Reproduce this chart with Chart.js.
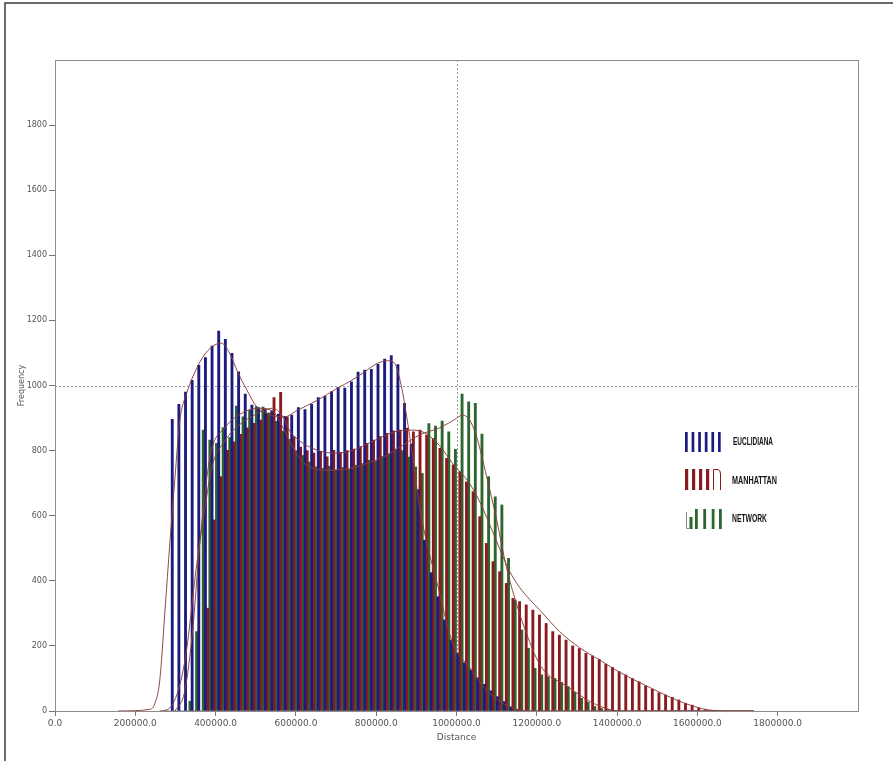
<!DOCTYPE html>
<html>
<head>
<meta charset="utf-8">
<title>Distance histogram</title>
<script src="https://cdn.jsdelivr.net/npm/chart.js@4.4.0/dist/chart.umd.min.js"></script>
<style>
    html, body { margin: 0; padding: 0; background: #fff; }
    canvas { display: block; }
</style>
</head>
<body>
<canvas id="histChart" width="893" height="761"></canvas>
<script>
// histogram bins: bin k is centred on k * binWidth
const binWidth = 16530;
const firstBin = 17;

const euclidiana = [
    0, 896, 942, 980, 1016, 1062, 1086, 1121, 1167, 1142, 1099, 1042, 974, 940, 932, 928, 922, 912, 905, 909,
    932, 926, 942, 963, 967, 981, 994, 992, 1011, 1041, 1047, 1050, 1065, 1081, 1092, 1064, 945, 820, 680, 525,
    425, 351, 280, 218, 177, 148, 126, 102, 82, 62, 44, 29, 13, 4, 0, 0, 0, 0, 0, 0,
    0, 0, 0, 0, 0, 0, 0, 0, 0, 0, 0, 0, 0, 0, 0, 0, 0, 0, 0, 0,
    0, 0, 0, 0
];
const manhattan = [
    0, 0, 0, 0, 0, 0, 316, 587, 720, 801, 827, 850, 870, 884, 894, 915, 963, 979, 904, 842,
    811, 800, 792, 798, 781, 801, 795, 800, 805, 812, 822, 832, 843, 853, 861, 863, 869, 858, 863, 848,
    837, 807, 776, 756, 735, 704, 674, 597, 515, 459, 428, 392, 346, 336, 326, 310, 295, 269, 244, 233,
    218, 200, 192, 177, 169, 159, 144, 134, 121, 111, 100, 90, 77, 67, 56, 49, 42, 34, 24, 18,
    9, 4, 1, 0
];
const network = [
    0, 0, 0, 30, 244, 863, 832, 822, 871, 840, 937, 904, 924, 935, 934, 915, 890, 860, 835, 800,
    785, 765, 750, 745, 752, 740, 748, 742, 755, 760, 770, 768, 782, 790, 805, 800, 780, 750, 730, 883,
    875, 891, 858, 804, 974, 950, 945, 851, 720, 658, 633, 469, 341, 249, 193, 131, 111, 105, 100, 88,
    75, 57, 39, 27, 14, 8, 4, 1, 0, 0, 0, 0, 0, 0, 0, 0, 0, 0, 0, 0,
    0, 0, 0, 0
];

// smoothed density curves drawn over the bars
const euclidCurveX = [157000, 236000, 249000, 261000, 274000, 286000, 299000, 311000, 328000, 343000, 368000, 393000, 415000, 435000, 455000, 478000, 502000, 527000, 552000, 572000, 604000, 654000, 704000, 739000, 771000, 803000, 828000, 846000, 863000, 876000, 891000, 908000, 958000, 990000, 1032000, 1075000, 1107000, 1144000, 1182000, 1741000];
const euclidCurveY = [0, 5, 24, 95, 310, 515, 720, 893, 976, 1026, 1087, 1121, 1130, 1099, 1041, 986, 935, 915, 904, 904, 924, 955, 992, 1016, 1042, 1068, 1076, 1068, 996, 904, 780, 627, 362, 209, 135, 64, 30, 8, 0, 0];
const manhCurveX = [261000, 286000, 323000, 353000, 373000, 391000, 423000, 460000, 498000, 522000, 542000, 567000, 585000, 609000, 654000, 697000, 739000, 789000, 846000, 888000, 920000, 958000, 990000, 1032000, 1057000, 1082000, 1107000, 1132000, 1157000, 1182000, 1206000, 1256000, 1306000, 1356000, 1405000, 1455000, 1505000, 1555000, 1592000, 1629000, 1667000, 1741000];
const manhCurveY = [0, 10, 150, 450, 620, 750, 830, 880, 910, 925, 930, 905, 860, 830, 801, 792, 800, 827, 858, 863, 855, 815, 761, 700, 645, 575, 500, 430, 380, 343, 312, 245, 195, 157, 120, 88, 58, 30, 14, 3, 0, 0];
const netCurveX = [299000, 323000, 343000, 361000, 386000, 423000, 473000, 510000, 547000, 572000, 597000, 622000, 672000, 734000, 789000, 833000, 871000, 908000, 958000, 995000, 1015000, 1032000, 1050000, 1075000, 1100000, 1124000, 1149000, 1174000, 1206000, 1239000, 1256000, 1294000, 1331000, 1368000, 1405000, 1741000];
const netCurveY = [0, 60, 250, 520, 780, 870, 920, 930, 915, 860, 800, 760, 740, 745, 766, 790, 820, 848, 870, 895, 909, 895, 843, 720, 587, 443, 331, 239, 146, 100, 90, 60, 30, 10, 0, 0];

const seriesNames = ['EUCLIDIANA', 'MANHATTAN', 'NETWORK'];
const seriesColors = ['#1c1c80', '#8b1a1f', '#2c662d'];
const curveColor = 'rgba(140, 62, 62, 0.95)';
const crossX = 1000000;
const crossY = 1000;

const axisFont = { family: 'DejaVu Sans', size: 9 };

function toBars(values) {
    return values.map((v, i) => ({ x: (firstBin + i) * binWidth, y: v }));
}

function toCurve(xs, ys) {
    return xs.map((x, i) => ({ x: x, y: ys[i] }));
}

function barSet(label, values, color) {
    return {
        type: 'bar',
        label: label,
        data: toBars(values),
        backgroundColor: color,
        borderWidth: 0,
        categoryPercentage: 1,
        barPercentage: 1,
        order: 1,
    };
}

function curveSet(label, xs, ys) {
    return {
        type: 'line',
        label: label,
        data: toCurve(xs, ys),
        borderColor: curveColor,
        borderWidth: 1,
        pointRadius: 0,
        fill: false,
        cubicInterpolationMode: 'monotone',
        order: 0,
    };
}

// frame, crosshair, plot box and the striped legend
const decorations = {
    id: 'decorations',
    beforeDraw(chart) {
        const ctx = chart.ctx;
        ctx.save();
        ctx.fillStyle = '#fff';
        ctx.fillRect(0, 0, chart.width, chart.height);
        ctx.strokeStyle = '#3a3a3a';
        ctx.lineWidth = 1.5;
        ctx.beginPath();
        ctx.moveTo(5, chart.height);
        ctx.lineTo(5, 3);
        ctx.lineTo(chart.width, 3);
        ctx.stroke();
        ctx.restore();
    },
    beforeDatasetsDraw(chart) {
        const { ctx, chartArea, scales } = chart;
        const px = scales.x.getPixelForValue(crossX);
        const py = scales.y.getPixelForValue(crossY);
        ctx.save();
        ctx.strokeStyle = '#9a9aa8';
        ctx.lineWidth = 1;
        ctx.setLineDash([2, 2]);
        ctx.beginPath();
        ctx.moveTo(Math.round(px) + 0.5, chartArea.top);
        ctx.lineTo(Math.round(px) + 0.5, chartArea.bottom);
        ctx.moveTo(chartArea.left, Math.round(py) + 0.5);
        ctx.lineTo(chartArea.right, Math.round(py) + 0.5);
        ctx.stroke();
        ctx.restore();
    },
    afterDraw(chart) {
        const { ctx, chartArea } = chart;
        ctx.save();
        ctx.strokeStyle = '#8c8c8c';
        ctx.lineWidth = 1;
        ctx.strokeRect(Math.round(chartArea.left) + 0.5, Math.round(chartArea.top) + 0.5,
            Math.round(chartArea.right - chartArea.left), Math.round(chartArea.bottom - chartArea.top));

        // legend glyphs
        ctx.fillStyle = seriesColors[0];
        for (let i = 0; i < 6; i++) {
            ctx.fillRect(685 + i * 6.6, 432, 2.7, 20);
        }
        ctx.fillStyle = seriesColors[1];
        for (let i = 0; i < 4; i++) {
            ctx.fillRect(685 + i * 7, 469, 3.2, 21);
        }
        ctx.strokeStyle = seriesColors[1];
        ctx.beginPath();
        ctx.moveTo(713.5, 490);
        ctx.lineTo(713.5, 469.5);
        ctx.lineTo(718, 469.5);
        ctx.quadraticCurveTo(720.5, 470, 720.5, 474);
        ctx.lineTo(720.5, 490);
        ctx.stroke();
        ctx.strokeStyle = '#888';
        ctx.beginPath();
        ctx.moveTo(686.5, 512);
        ctx.lineTo(686.5, 528.5);
        ctx.lineTo(689, 528.5);
        ctx.stroke();
        ctx.fillStyle = seriesColors[2];
        ctx.fillRect(689.5, 517, 3, 12);
        [695, 703.3, 711.7, 719].forEach(x => ctx.fillRect(x, 509, 2.8, 20));

        ctx.fillStyle = '#111';
        ctx.font = 'bold 10px "Liberation Sans", Arial, sans-serif';
        ctx.textBaseline = 'middle';
        ctx.fillText(seriesNames[0], 733, 442, 40);
        ctx.fillText(seriesNames[1], 732, 481, 45);
        ctx.fillText(seriesNames[2], 732, 519, 35);
        ctx.restore();
    }
};

new Chart(document.getElementById('histChart'), {
    type: 'bar',
    data: {
        datasets: [
            curveSet('Euclidiana curve', euclidCurveX, euclidCurveY),
            curveSet('Manhattan curve', manhCurveX, manhCurveY),
            curveSet('Network curve', netCurveX, netCurveY),
            barSet(seriesNames[0], euclidiana, seriesColors[0]),
            barSet(seriesNames[1], manhattan, seriesColors[1]),
            barSet(seriesNames[2], network, seriesColors[2]),
        ],
    },
    options: {
        responsive: false,
        devicePixelRatio: 1,
        animation: false,
        layout: { padding: { top: 60, right: 35, left: 0, bottom: 0 } },
        plugins: {
            legend: { display: false },
            tooltip: { enabled: false },
        },
        scales: {
            x: {
                type: 'linear',
                min: 0,
                max: 2000000,
                offset: false,
                afterBuildTicks: s => { s.ticks = s.ticks.filter(t => t.value <= 1800000); },
                afterFit: s => { s.height = 50; },
                ticks: {
                    stepSize: 200000,
                    autoSkip: false,
                    maxRotation: 0,
                    padding: 2,
                    color: '#555',
                    font: axisFont,
                    callback: v => Number(v).toFixed(1),
                },
                grid: { offset: false, drawOnChartArea: false, drawTicks: true, tickLength: 5, color: '#777' },
                border: { display: false },
                title: { display: true, text: 'Distance', color: '#555', font: axisFont, padding: { top: 0, bottom: 18 } },
            },
            y: {
                min: 0,
                max: 2000,
                afterBuildTicks: s => { s.ticks = s.ticks.filter(t => t.value <= 1800); },
                afterFit: s => { s.width = 55; },
                ticks: {
                    stepSize: 200,
                    padding: 2,
                    color: '#555',
                    font: { family: 'DejaVu Sans', size: 8 },
                    callback: v => String(v),
                },
                grid: { drawOnChartArea: false, drawTicks: true, tickLength: 6, color: '#777' },
                border: { display: false },
                title: { display: true, text: 'Frequency', color: '#555', font: { family: 'DejaVu Sans', size: 8 }, padding: { top: 17, bottom: 0 } },
            },
        },
    },
    plugins: [decorations],
});
</script>
</body>
</html>
